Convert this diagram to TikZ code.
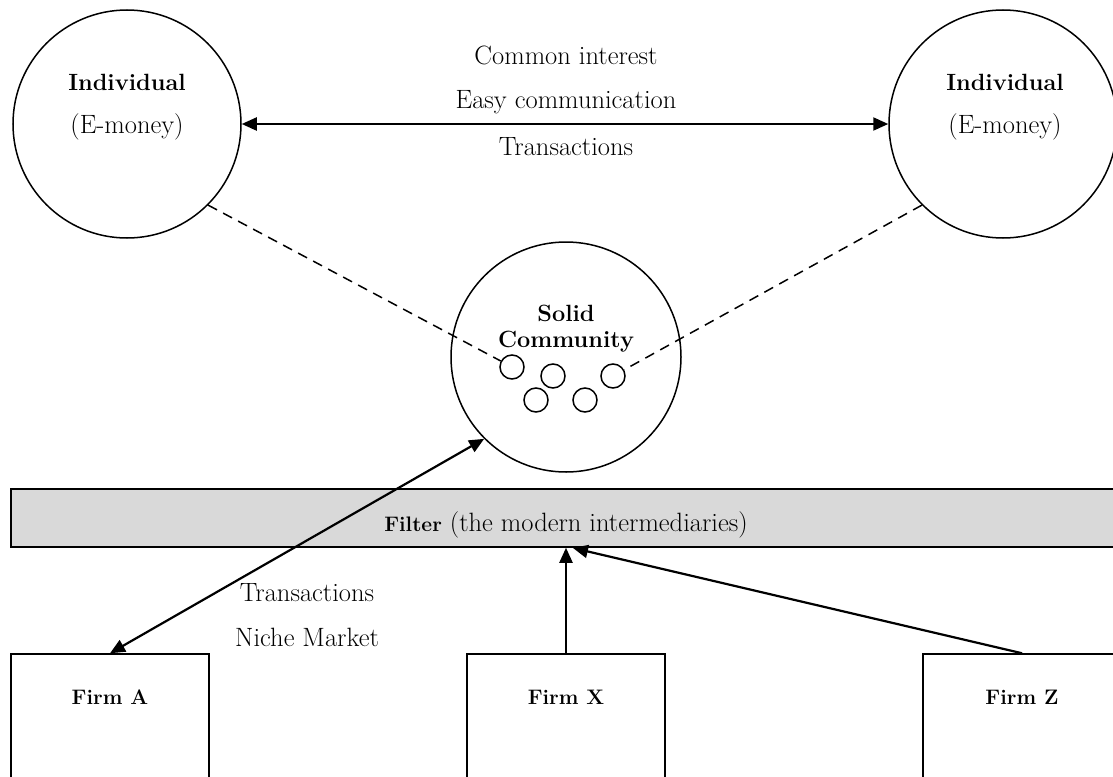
\documentclass[tikz,border=0pt]{standalone}
\usetikzlibrary{arrows.meta}
\definecolor{filtergray}{RGB}{217,217,217}
\begin{document}
\begin{tikzpicture}[x=1pt,y=-1pt,
  bigcirc/.style={circle,draw,line width=1.5pt,minimum size=228pt,inner sep=0pt},
  smallcirc/.style={circle,draw,line width=1.5pt,minimum size=24pt,inner sep=0pt},
  firmbox/.style={rectangle,draw,line width=1.5pt,minimum width=198pt,minimum height=170pt,inner sep=0pt},
  txt/.style={font=\fontsize{26.5}{31}\selectfont,inner sep=0pt},
  btxt/.style={font=\fontsize{23.5}{28}\selectfont\bfseries,inner sep=0pt},
  stxt/.style={font=\fontsize{21}{25}\selectfont\bfseries,inner sep=0pt},
  conn/.style={line width=2.2pt},
  dashline/.style={line width=1.5pt,dash pattern=on 10pt off 7pt}
]
\useasboundingbox (0,0) rectangle (1113,776);
\clip (0,0) rectangle (1113,776);

% individuals
\node[bigcirc] (L) at (127,124) {};
\node[bigcirc] (R) at (1003,124) {};
\node[btxt] (Lt1) at (127,82) {Individual};
\node[txt] (Lt2) at (127,127) {(E-money)};
\node[btxt] (Rt1) at (1005,82) {Individual};
\node[txt] (Rt2) at (1005,127) {(E-money)};

% relation labels
\node[txt] (m1) at (566,55) {Common interest};
\node[txt] (m2) at (566,102) {Easy communication};
\node[txt] (m3) at (566,147) {Transactions};
\draw[conn,{Triangle[length=15pt,width=13pt]}-{Triangle[length=15pt,width=13pt]}] (L.east) -- (R.west);

% solid community
\node[circle,draw,line width=1.5pt,minimum size=230pt,inner sep=0pt] (S) at (566,357) {};
\node[btxt] (St1) at (566,313) {Solid};
\node[btxt] (St2) at (566,342) {Community};
\node[smallcirc] (c1) at (512,367) {};
\node[smallcirc] (c2) at (553,376) {};
\node[smallcirc] (c3) at (613,376) {};
\node[smallcirc] (c4) at (536,400) {};
\node[smallcirc] (c5) at (585,400) {};
\draw[dashline] (L.south east) -- (c1);
\draw[dashline] (R.south west) -- (c3);

% filter
\node[rectangle,draw,line width=1.5pt,fill=filtergray,minimum width=1110pt,minimum height=58pt,inner sep=0pt] (F) at (566,518) {};
\node[txt] (Ft) at (566,525) {{\fontsize{21}{25}\selectfont\bfseries Filter} (the modern intermediaries)};

% firms
\node[firmbox] (A) at (110,739) {};
\node[firmbox] (X) at (566,739) {};
\node[firmbox] (Z) at (1022,739) {};
\node[stxt] (At) at (110,697) {Firm A};
\node[stxt] (Xt) at (566,697) {Firm X};
\node[stxt] (Zt) at (1022,697) {Firm Z};

\node[txt] (n1) at (307,593) {Transactions};
\node[txt] (n2) at (307,637) {Niche Market};

\coordinate (zt) at (573,548);
\draw[conn,{Triangle[length=15pt,width=13pt]}-{Triangle[length=15pt,width=13pt]}] (S.south west) -- (A.north);
\draw[conn,-{Triangle[length=15pt,width=13pt]}] (X.north) -- (F.south);
\draw[conn,-{Triangle[length=15pt,width=13pt]}] (Z.north) -- (zt);
\end{tikzpicture}
\end{document}
